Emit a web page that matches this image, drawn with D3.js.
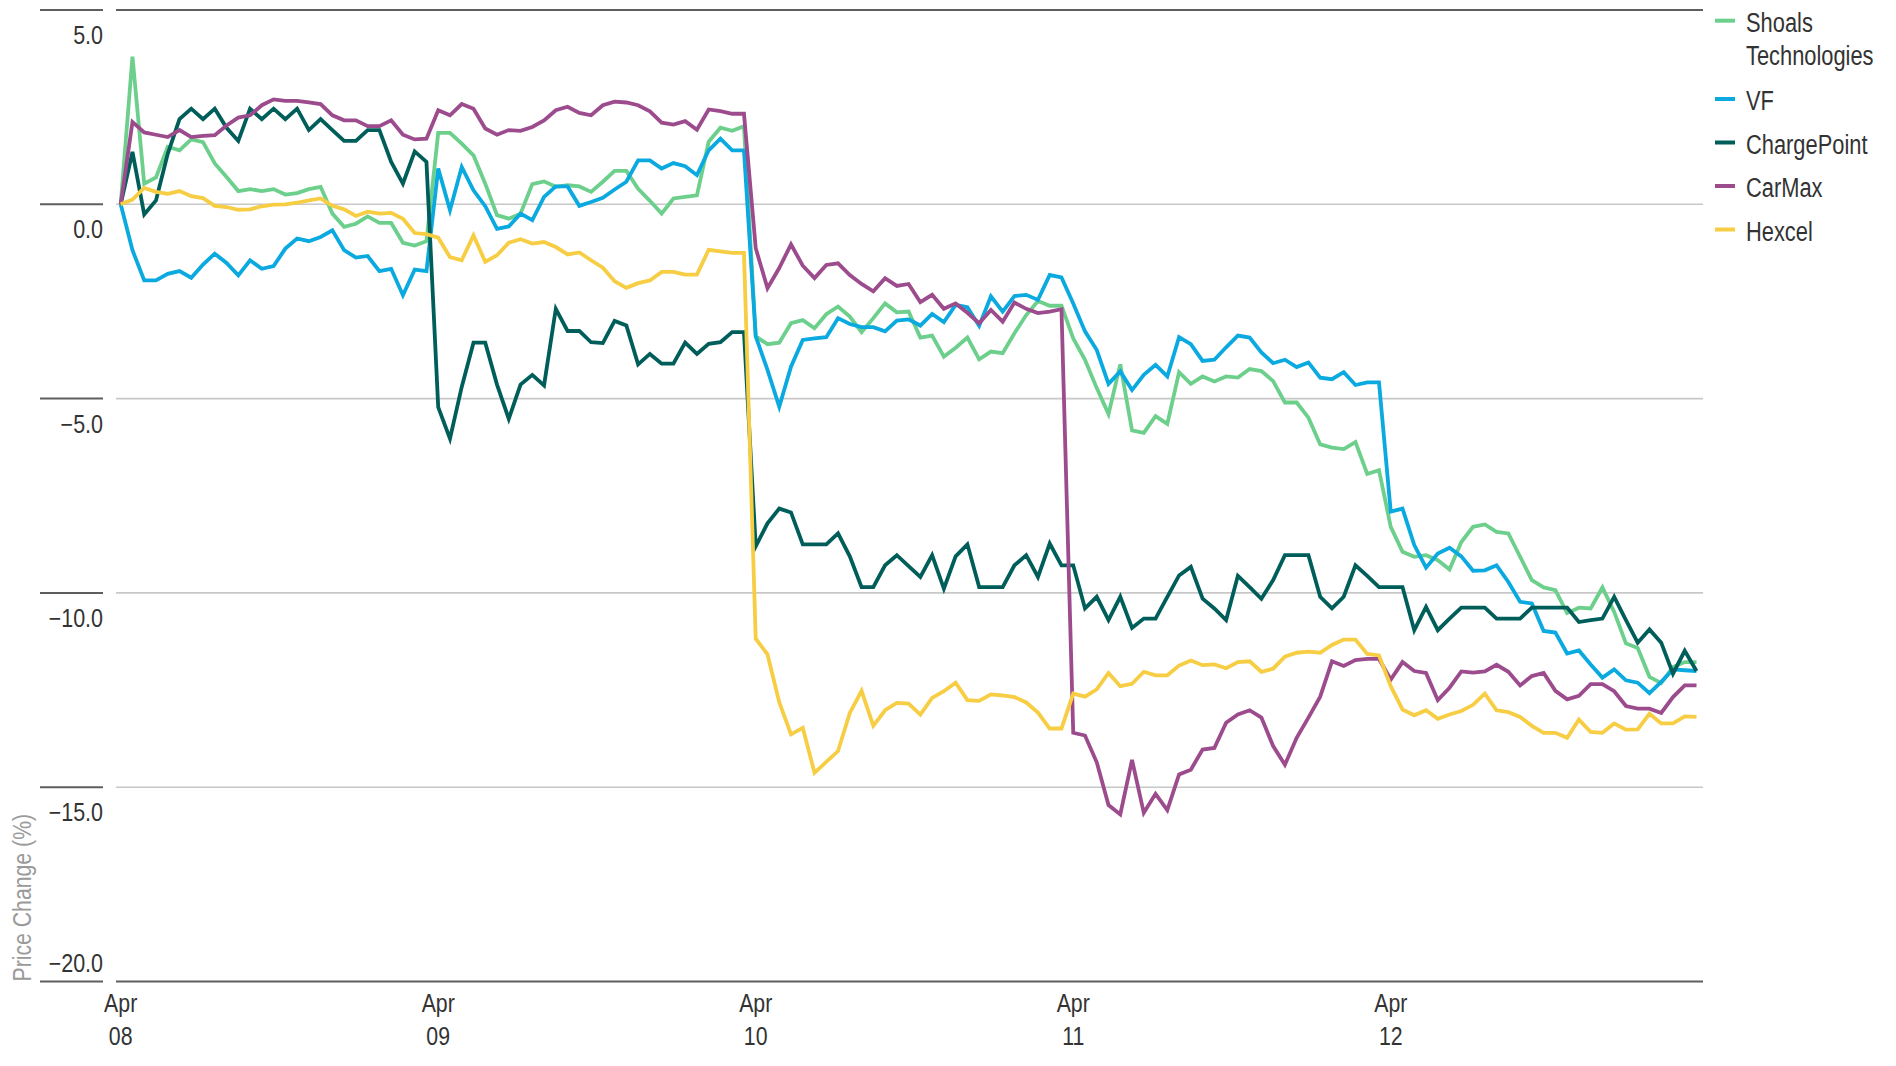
<!DOCTYPE html>
<html>
  <head>
    <meta charset="utf-8">
    <title>Price Change</title>
    <script src="https://d3js.org/d3.v7.min.js"></script>
    <style>
      body { margin: 0; background: #fff; }
      text { font-family: "Liberation Sans", Arial, sans-serif; }
    </style>
  </head>
  <body>
    <svg id="chart" width="1896" height="1066"></svg>
    <script>
      // 15-minute closes, 27 per trading day, Apr 08 - Apr 12
      let dayLabels = ["08", "09", "10", "11", "12"];
      let pointsPerDay = 27;
      let yTicks = [5, 0, -5, -10, -15, -20];

      let shoals = [
        0, 3.8, 0.53, 0.69, 1.48, 1.39, 1.67, 1.6, 1.05, 0.7, 0.34, 0.39, 0.34, 0.39, 0.25, 0.29, 0.39, 0.45, -0.24, -0.58, -0.5, -0.31, -0.48, -0.48, -0.99, -1.06, -0.95,
        1.84, 1.84, 1.56, 1.26, 0.53, -0.28, -0.37, -0.24, 0.52, 0.59, 0.45, 0.49, 0.46, 0.32, 0.58, 0.86, 0.86, 0.4, 0.09, -0.24, 0.15, 0.19, 0.23, 1.61, 1.97, 1.89, 2.01,
        -3.4, -3.6, -3.56, -3.06, -2.98, -3.19, -2.83, -2.63, -2.89, -3.29, -2.93, -2.55, -2.78, -2.76, -3.43, -3.38, -3.92, -3.69, -3.43, -3.99, -3.79, -3.83, -3.32, -2.85, -2.49, -2.61, -2.61,
        -3.45, -4.0, -4.73, -5.4, -4.12, -5.82, -5.88, -5.45, -5.65, -4.32, -4.62, -4.43, -4.56, -4.43, -4.46, -4.24, -4.29, -4.55, -5.1, -5.1, -5.49, -6.18, -6.26, -6.3, -6.12, -6.94, -6.84,
        -8.3, -8.94, -9.07, -9.03, -9.16, -9.4, -8.69, -8.3, -8.24, -8.43, -8.47, -9.07, -9.67, -9.86, -9.93, -10.52, -10.38, -10.4, -9.86, -10.49, -11.3, -11.42, -12.16, -12.32, -11.91, -11.78, -11.78
      ];
      let vf = [
        0, -1.18, -1.96, -1.96, -1.79, -1.72, -1.89, -1.55, -1.27, -1.51, -1.83, -1.44, -1.66, -1.59, -1.14, -0.88, -0.95, -0.84, -0.67, -1.18, -1.37, -1.33, -1.72, -1.66, -2.34, -1.68, -1.72,
        0.92, -0.15, 0.96, 0.36, -0.05, -0.63, -0.57, -0.24, -0.41, 0.19, 0.46, 0.46, -0.04, 0.06, 0.17, 0.38, 0.58, 1.13, 1.13, 0.92, 1.06, 0.98, 0.75, 1.39, 1.69, 1.39, 1.39,
        -3.4, -4.26, -5.21, -4.18, -3.49, -3.45, -3.42, -2.93, -3.08, -3.16, -3.16, -3.27, -2.99, -2.96, -3.12, -2.82, -3.03, -2.59, -2.65, -3.13, -2.37, -2.76, -2.36, -2.33, -2.46, -1.82, -1.88,
        -2.55, -3.27, -3.75, -4.62, -4.3, -4.78, -4.39, -4.13, -4.43, -3.42, -3.6, -4.03, -4.0, -3.68, -3.38, -3.43, -3.81, -4.09, -4.0, -4.19, -4.07, -4.46, -4.5, -4.32, -4.65, -4.58, -4.58,
        -7.91, -7.83, -8.77, -9.35, -8.99, -8.84, -9.06, -9.43, -9.42, -9.29, -9.72, -10.23, -10.27, -10.98, -11.02, -11.56, -11.48, -11.84, -12.18, -11.97, -12.25, -12.31, -12.58, -12.29, -11.97, -11.99, -12.01
      ];
      let chargePoint = [
        0, 1.35, -0.26, 0.1, 1.3, 2.19, 2.46, 2.19, 2.46, 1.97, 1.63, 2.46, 2.19, 2.46, 2.19, 2.46, 1.91, 2.19, 1.91, 1.63, 1.63, 1.91, 1.91, 1.09, 0.53, 1.36, 1.09,
        -5.22, -6.03, -4.7, -3.56, -3.56, -4.64, -5.52, -4.64, -4.39, -4.66, -2.69, -3.26, -3.26, -3.55, -3.57, -3.0, -3.12, -4.12, -3.85, -4.1, -4.1, -3.56, -3.85, -3.59, -3.55, -3.29, -3.29,
        -8.8, -8.21, -7.83, -7.93, -8.75, -8.75, -8.75, -8.47, -9.06, -9.85, -9.85, -9.29, -9.03, -9.31, -9.59, -9.03, -9.89, -9.06, -8.75, -9.85, -9.85, -9.85, -9.29, -9.03, -9.59, -8.73, -9.29,
        -9.29, -10.4, -10.1, -10.7, -10.1, -10.9, -10.66, -10.66, -10.1, -9.55, -9.33, -10.15, -10.4, -10.7, -9.56, -9.85, -10.15, -9.67, -9.03, -9.03, -9.03, -10.1, -10.4, -10.1, -9.29, -9.56, -9.85,
        -9.85, -9.85, -10.96, -10.36, -10.96, -10.66, -10.38, -10.38, -10.38, -10.66, -10.66, -10.66, -10.38, -10.38, -10.38, -10.38, -10.75, -10.7, -10.66, -10.1, -10.7, -11.28, -10.94, -11.28, -12.08, -11.49, -12.01
      ];
      let carMax = [
        0, 2.12, 1.85, 1.79, 1.73, 1.91, 1.73, 1.76, 1.78, 2.03, 2.23, 2.29, 2.55, 2.7, 2.66, 2.66, 2.62, 2.58, 2.29, 2.16, 2.16, 2.01, 2.01, 2.16, 1.79, 1.67, 1.69,
        2.42, 2.29, 2.58, 2.46, 1.95, 1.79, 1.91, 1.89, 1.99, 2.16, 2.42, 2.51, 2.35, 2.29, 2.55, 2.64, 2.62, 2.55, 2.39, 2.1, 2.05, 2.14, 1.92, 2.44, 2.4, 2.33, 2.33,
        -1.13, -2.16, -1.64, -1.03, -1.58, -1.9, -1.56, -1.52, -1.82, -2.05, -2.24, -1.9, -2.1, -2.05, -2.52, -2.33, -2.69, -2.55, -2.79, -3.06, -2.72, -3.02, -2.53, -2.69, -2.8, -2.76, -2.7,
        -13.6, -13.67, -14.36, -15.46, -15.7, -14.3, -15.66, -15.17, -15.59, -14.67, -14.55, -14.03, -13.99, -13.34, -13.13, -13.02, -13.21, -13.94, -14.42, -13.73, -13.21, -12.67, -11.76, -11.88, -11.73, -11.7, -11.7,
        -12.23, -11.78, -12.01, -12.06, -12.76, -12.44, -12.02, -12.05, -12.02, -11.85, -12.03, -12.38, -12.14, -12.06, -12.52, -12.74, -12.65, -12.35, -12.35, -12.53, -12.91, -12.98, -12.98, -13.09, -12.68, -12.38, -12.38
      ];
      let hexcel = [
        0, 0.12, 0.42, 0.32, 0.27, 0.34, 0.21, 0.16, -0.04, -0.07, -0.14, -0.13, -0.05, -0.01, 0, 0.04, 0.1, 0.15, -0.04, -0.13, -0.3, -0.19, -0.24, -0.22, -0.37, -0.74, -0.77,
        -0.86, -1.36, -1.44, -0.8, -1.48, -1.31, -0.99, -0.9, -1.01, -0.97, -1.1, -1.29, -1.24, -1.44, -1.63, -1.98, -2.15, -2.03, -1.96, -1.74, -1.74, -1.81, -1.81, -1.17, -1.21, -1.25, -1.25,
        -11.18, -11.58, -12.81, -13.64, -13.47, -14.63, -14.35, -14.07, -13.09, -12.52, -13.42, -13.02, -12.83, -12.85, -13.13, -12.7, -12.53, -12.31, -12.76, -12.78, -12.61, -12.64, -12.68, -12.82, -13.08, -13.49, -13.49,
        -12.59, -12.67, -12.48, -12.06, -12.4, -12.34, -12.03, -12.12, -12.12, -11.87, -11.74, -11.86, -11.84, -11.94, -11.78, -11.76, -12.03, -11.95, -11.64, -11.54, -11.51, -11.54, -11.34, -11.2, -11.2, -11.57, -11.61,
        -12.4, -13.0, -13.15, -13.02, -13.24, -13.13, -13.04, -12.88, -12.59, -13.02, -13.07, -13.19, -13.42, -13.6, -13.6, -13.73, -13.26, -13.58, -13.6, -13.36, -13.52, -13.51, -13.11, -13.36, -13.36, -13.18, -13.19
      ];

      let seriesValues = [shoals, vf, chargePoint, carMax, hexcel];
      let colors = ["#6ccf8c", "#0aa9df", "#005e5a", "#9c4b8d", "#f6cd43"];

      let svg = d3.select("#chart");

      // no condensed face installed, so squeeze a regular one
      function narrowText(parent, tx, ty, size, sx, txt, anchor, fill) {
        return parent.append("g")
          .attr("transform", `translate(${tx},${ty}) scale(${sx},1)`)
          .append("text")
          .attr("text-anchor", anchor)
          .attr("font-size", size)
          .attr("fill", fill)
          .text(txt);
      }

      let plotLeft = 116, plotRight = 1703;
      let x = d3.scaleLinear().domain([0, shoals.length - 1]).range([120.7, 1696.5]);
      let y = d3.scaleLinear().domain([-20, 5]).range([981.5, 10]);

      // gridlines + left tick stubs
      let grid = svg.append("g");
      yTicks.forEach((t) => {
        let edge = t === 5 || t === -20;
        grid.append("line")
          .attr("x1", plotLeft).attr("x2", plotRight)
          .attr("y1", y(t)).attr("y2", y(t))
          .attr("stroke", edge ? "#5e5e5e" : "#c8c8c8")
          .attr("stroke-width", edge ? 2 : 1.6);
        grid.append("line")
          .attr("x1", 40).attr("x2", 103)
          .attr("y1", y(t)).attr("y2", y(t))
          .attr("stroke", "#5e5e5e")
          .attr("stroke-width", 2);
        let ly = t === -20 ? y(t) - 9.5 : y(t) + 34;
        narrowText(grid, 103, ly, 25, 0.86, d3.format(".1f")(t), "end", "#333");
      });

      // y axis title
      svg.append("g")
        .attr("transform", `translate(31, ${y(-20)}) rotate(-90) scale(0.85,1)`)
        .append("text")
        .attr("text-anchor", "start")
        .attr("font-size", 25)
        .attr("fill", "#9a9a9a")
        .text("Price Change (%)");

      // x axis day labels
      let xLab = svg.append("g");
      dayLabels.forEach((d, i) => {
        let cx = x(i * pointsPerDay);
        narrowText(xLab, cx, 1012, 26, 0.82, "Apr", "middle", "#333");
        narrowText(xLab, cx, 1045, 26, 0.82, d, "middle", "#333");
      });

      // lines
      let line = d3.line().x((d, i) => x(i)).y((d) => y(d));
      svg.append("g")
        .selectAll("path")
        .data(seriesValues)
        .join("path")
        .attr("d", (d) => line(d))
        .attr("fill", "none")
        .attr("stroke", (d, i) => colors[i])
        .attr("stroke-width", 3.8)
        .attr("stroke-linejoin", "miter");

      // legend
      let legendRows = [
        { lines: ["Shoals", "Technologies"], y: 31.7 },
        { lines: ["VF"], y: 110 },
        { lines: ["ChargePoint"], y: 153.5 },
        { lines: ["CarMax"], y: 197 },
        { lines: ["Hexcel"], y: 240.5 }
      ];
      let legend = svg.append("g");
      legendRows.forEach((r, i) => {
        legend.append("rect")
          .attr("x", 1715).attr("y", r.y - 13)
          .attr("width", 20).attr("height", 4)
          .attr("fill", colors[i]);
        r.lines.forEach((s, k) => {
          narrowText(legend, 1746, r.y + k * 33.5, 27, 0.81, s, "start", "#333");
        });
      });
    </script>
  </body>
</html>
